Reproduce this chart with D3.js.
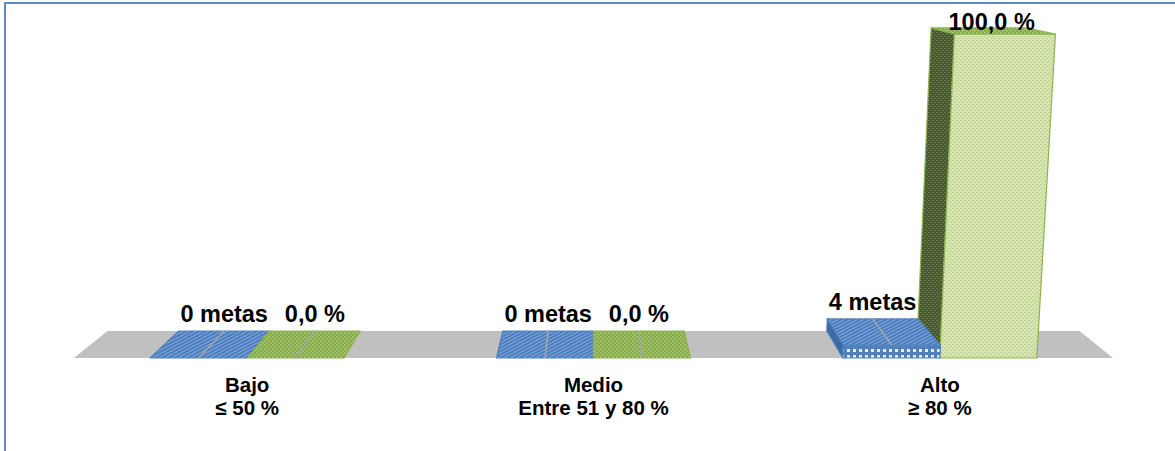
<!DOCTYPE html>
<html>
<head>
<meta charset="utf-8">
<script src="https://cdn.jsdelivr.net/npm/d3@7"></script>
<style>
  body { margin: 0; background: #fff; }
  text { font-family: "Liberation Sans", Arial, sans-serif; font-weight: bold; fill: #000; }
</style>
</head>
<body>
<div id="chart"></div>
<script>
const categories = ["Bajo", "Medio", "Alto"];
const categoryRanges = ["≤ 50 %", "Entre 51 y 80 %", "≥ 80 %"];
const metas = [0, 0, 4];
const porcentaje = [0, 0, 100];
const seriesKeys = ["metas", "porcentaje"];

const width = 1175;
const height = 451;

// simple perspective: camera centred above the floor
const cx = 594;
const floorFront = 358;
const floorDepth = 27;
const shrink = 0.0645;   // horizontal shrink from front to back
const grow = 0.00013;    // verticals lean outwards going up
const labelTop = 30;     // labels never go above this baseline

function proj(X, h, d) {
  const s = 1 - shrink * d;
  const k = 1 + grow * h;
  return [cx + X * s * k, floorFront - floorDepth * d - h * s];
}

function poly(points) {
  return points.map(p => p.join(",")).join(" ");
}

const svg = d3.select("#chart").append("svg")
  .attr("width", width)
  .attr("height", height);

const defs = svg.append("defs");

function addPattern(id, bg, fg, size, draw) {
  const p = defs.append("pattern")
    .attr("id", id)
    .attr("patternUnits", "userSpaceOnUse")
    .attr("width", size)
    .attr("height", size);
  p.append("rect").attr("width", size).attr("height", size).attr("fill", bg);
  draw(p, fg);
  return p;
}

// blue: fine diagonal lines
addPattern("blueTop", "#4a7dbf", "#86a8d8", 3, (p, fg) => {
  p.append("rect").attr("x", 0).attr("y", 0).attr("width", 3).attr("height", 1).attr("fill", fg);
}).attr("patternTransform", "rotate(-28)");

addPattern("blueFront", "#4f81bd", "#ffffff", 6, (p, fg) => {
  p.append("rect").attr("x", 1).attr("y", 1).attr("width", 3).attr("height", 3).attr("fill", fg).attr("opacity", 0.85);
});

addPattern("greenTop", "#86ad4a", "#b3cc82", 4, (p, fg) => {
  p.append("rect").attr("x", 0).attr("y", 0).attr("width", 1.5).attr("height", 1.5).attr("fill", fg);
  p.append("rect").attr("x", 2).attr("y", 2).attr("width", 1.5).attr("height", 1.5).attr("fill", fg);
});

addPattern("greenFront", "#d6e5b2", "#bcd18a", 4, (p, fg) => {
  p.append("rect").attr("x", 0).attr("y", 0).attr("width", 2).attr("height", 1).attr("fill", fg);
  p.append("rect").attr("x", 2).attr("y", 2).attr("width", 2).attr("height", 1).attr("fill", fg);
});

addPattern("greenSide", "#485830", "#68794a", 4, (p, fg) => {
  p.append("rect").attr("x", 0).attr("y", 0).attr("width", 2).attr("height", 1).attr("fill", fg);
  p.append("rect").attr("x", 2).attr("y", 2).attr("width", 2).attr("height", 1).attr("fill", fg);
});

const styles = {
  metas: { top: "url(#blueTop)", front: "url(#blueFront)", side: "#3d6aa3", stroke: "#4f81bd" },
  porcentaje: { top: "url(#greenTop)", front: "url(#greenFront)", side: "url(#greenSide)", stroke: "#8db352" }
};

// scales, in front-plane pixels relative to the centre
const x0 = d3.scaleBand()
  .domain(categories)
  .range([74 - cx, 1113 - cx])
  .paddingInner(0.44)
  .paddingOuter(0.22);

const x1 = d3.scaleBand()
  .domain(seriesKeys)
  .range([0, x0.bandwidth()]);

const y = d3.scaleLinear()
  .domain([0, 100])
  .range([0, 324]);

// frame
svg.append("rect")
  .attr("x", 5)
  .attr("y", 3)
  .attr("width", width + 10)
  .attr("height", height + 10)
  .attr("fill", "none")
  .attr("stroke", "#5b8cc8")
  .attr("stroke-width", 2);

// floor
const [fl, fr] = x0.range();
svg.append("polygon")
  .attr("points", poly([proj(fl, 0, 0), proj(fr, 0, 0), proj(fr, 0, 1), proj(fl, 0, 1)]))
  .attr("fill", "#c0c0c0");

const bars = [];
categories.forEach((c, i) => {
  bars.push({ cat: c, key: "metas", value: metas[i], label: `${metas[i]} metas` });
  bars.push({ cat: c, key: "porcentaje", value: porcentaje[i],
    label: `${d3.format(".1f")(porcentaje[i]).replace(".", ",")} %` });
});
bars.forEach(b => {
  b.X0 = x0(b.cat) + x1(b.key);
  b.X1 = b.X0 + x1.bandwidth();
  b.Xc = (b.X0 + b.X1) / 2;
  b.h = y(b.value);
  // label sits above the back of the bar, or inside the top when there is no room
  const back = proj(b.Xc, b.h, 1);
  b.inside = back[1] - 9 < labelTop;
  b.lx = b.inside ? proj(b.Xc, b.h, 0.5)[0] : back[0];
  b.ly = b.inside ? labelTop : back[1] - 9;
});

// draw bars farther from centre first
const drawOrder = bars.slice().sort((a, b) => Math.abs(b.Xc) - Math.abs(a.Xc));

const gBars = svg.append("g");
drawOrder.forEach(b => {
  const st = styles[b.key];
  const g = gBars.append("g")
    .attr("stroke", st.stroke)
    .attr("stroke-width", 1.2)
    .attr("stroke-linejoin", "round");
  if (b.h > 0) {
    if (b.X0 > 0) {
      g.append("polygon")
        .attr("points", poly([proj(b.X0, 0, 0), proj(b.X0, b.h, 0), proj(b.X0, b.h, 1), proj(b.X0, 0, 1)]))
        .attr("fill", st.side);
    }
    if (b.X1 < 0) {
      g.append("polygon")
        .attr("points", poly([proj(b.X1, 0, 0), proj(b.X1, b.h, 0), proj(b.X1, b.h, 1), proj(b.X1, 0, 1)]))
        .attr("fill", st.side);
    }
    g.append("polygon")
      .attr("points", poly([proj(b.X0, 0, 0), proj(b.X1, 0, 0), proj(b.X1, b.h, 0), proj(b.X0, b.h, 0)]))
      .attr("fill", st.front);
  }
  g.append("polygon")
    .attr("points", poly([proj(b.X0, b.h, 0), proj(b.X1, b.h, 0), proj(b.X1, b.h, 1), proj(b.X0, b.h, 1)]))
    .attr("fill", st.top);
});

// leader lines from label to the front of the bar top
svg.append("g")
  .attr("stroke", "#a6a6a6")
  .attr("stroke-width", 1.5)
  .selectAll("line")
  .data(bars.filter(b => !b.inside))
  .join("line")
    .attr("x1", d => d.lx)
    .attr("y1", d => d.ly + 9)
    .attr("x2", d => proj(d.Xc, d.h, 0)[0])
    .attr("y2", d => proj(d.Xc, d.h, 0)[1]);

// value labels
svg.append("g")
  .selectAll("text")
  .data(bars)
  .join("text")
    .attr("x", d => d.lx)
    .attr("y", d => d.ly)
    .attr("text-anchor", "middle")
    .attr("font-size", 23.5)
    .text(d => d.label);

// category labels
const catLabels = svg.append("g")
  .selectAll("text")
  .data(categories)
  .join("text")
    .attr("text-anchor", "middle")
    .attr("font-size", 20.5)
    .attr("transform", d => `translate(${proj(x0(d) + x0.bandwidth() / 2, 0, 0)[0]},392)`);
catLabels.append("tspan")
  .attr("x", 0)
  .attr("y", 0)
  .text(d => d);
catLabels.append("tspan")
  .attr("x", 0)
  .attr("y", 23)
  .text((d, i) => categoryRanges[i]);
</script>
</body>
</html>
